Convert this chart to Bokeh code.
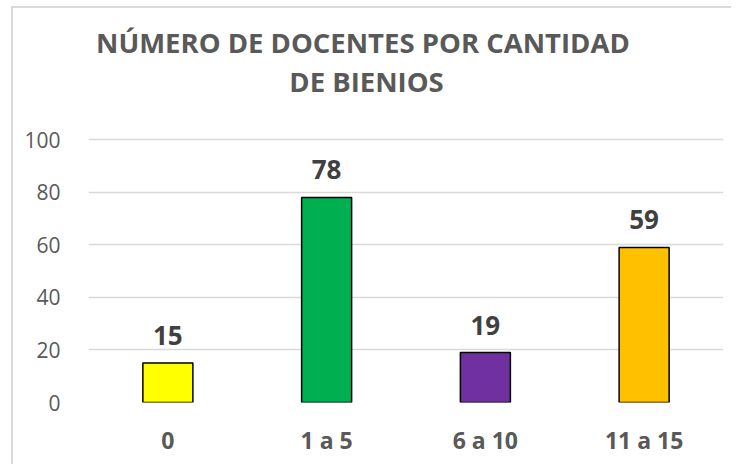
from bokeh.plotting import figure
from bokeh.models import ColumnDataSource, LabelSet, Label
from bokeh.core.properties import value
from bokeh.embed import file_html
from bokeh.resources import INLINE

categories = ["0", "1 a 5", "6 a 10", "11 a 15"]
values = [15, 78, 19, 59]
colors = ["#FFFF00", "#00B050", "#7030A0", "#FFC000"]
labels = [str(v) for v in values]
y_ticks = [0, 20, 40, 60, 80, 100]
title_lines = ["NÚMERO DE DOCENTES POR  CANTIDAD", "DE BIENIOS"]

FONT = "Open Sans"
GRAY = "#595959"

source = ColumnDataSource(dict(cat=categories, val=values, color=colors, label=labels))

# frame extends above 100 so the title can sit inside it
p = figure(x_range=categories, y_range=(0, 149.9), width=720, height=458,
           output_backend="svg", toolbar_location=None,
           min_border_left=75, min_border_right=10, min_border_top=0, min_border_bottom=64)
p.styles = {"border-left": "2px solid #d9d9d9", "border-top": "2px solid #d9d9d9",
            "margin-left": "11px", "margin-top": "6px"}

p.vbar(x="cat", top="val", width=0.315, bottom=0, source=source,
       fill_color="color", line_color="black", line_width=1.5)

p.add_layout(LabelSet(x="cat", y="val", text="label", source=source,
                      text_align="center", text_baseline="alphabetic", y_offset=18,
                      text_font=value(FONT), text_font_style="bold", text_font_size="26px",
                      text_color="#404040"))

p.outline_line_color = None
p.xgrid.grid_line_color = None
p.ygrid.grid_line_color = "#d9d9d9"
p.ygrid.grid_line_width = 1.5
p.yaxis.ticker = y_ticks
p.axis.axis_line_color = None
p.axis.major_tick_line_color = None
p.axis.minor_tick_line_color = None
p.yaxis.major_label_standoff = 22
p.yaxis.major_label_text_font = FONT
p.yaxis.major_label_text_font_size = "21px"
p.yaxis.major_label_text_color = GRAY
p.xaxis.major_label_standoff = 15
p.xaxis.major_label_text_font = FONT
p.xaxis.major_label_text_font_style = "bold"
p.xaxis.major_label_text_font_size = "23px"
p.xaxis.major_label_text_color = GRAY
p.background_fill_color = "white"
p.border_fill_color = "white"

for txt, ty in zip(title_lines, [136.9, 122.2]):
    p.add_layout(Label(x=1.751, y=ty, text=txt, text_align="center",
                       text_baseline="alphabetic", text_font=FONT,
                       text_font_style="bold", text_font_size="27.5px", text_color=GRAY))

open("out.html", "w").write(file_html(p, INLINE))
